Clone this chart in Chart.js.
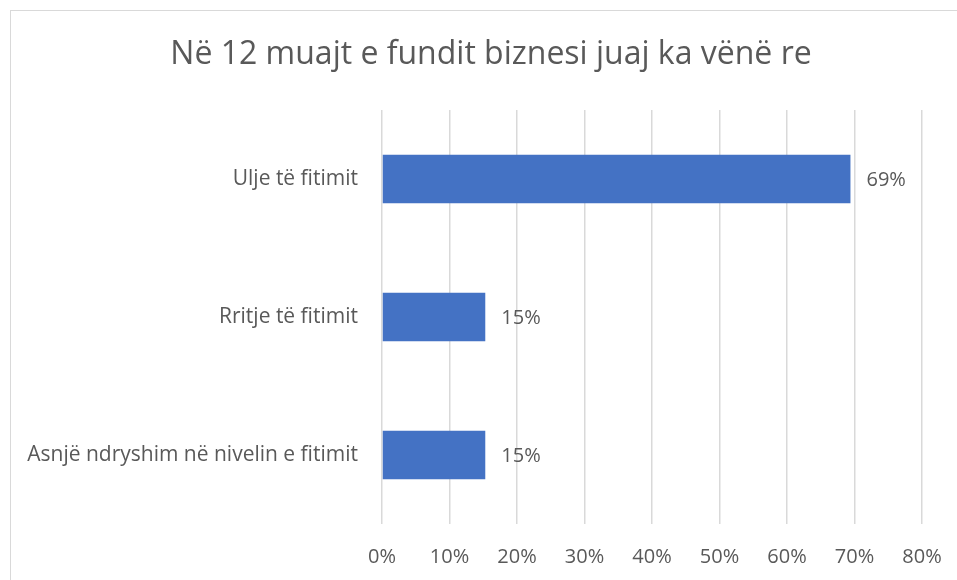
<!DOCTYPE html>
<html>
<head>
<meta charset="utf-8">
<script src="https://cdn.jsdelivr.net/npm/chart.js@4"></script>
<style>
  html, body { margin: 0; padding: 0; background: #ffffff; }
  #wrap { position: relative; width: 957px; height: 580px; }
</style>
</head>
<body>
<div id="wrap"><canvas id="c" width="957" height="580"></canvas></div>
<script>
const titleText = "Në 12 muajt e fundit biznesi juaj ka vënë re";
const categories = ["Ulje të fitimit", "Rritje të fitimit", "Asnjë ndryshim në nivelin e fitimit"];
const values = [69.4, 15.3, 15.3];
const tickValues = [0, 10, 20, 30, 40, 50, 60, 70, 80];

const FONT = "'Open Sans', Lato, sans-serif";
const TEXT = "#595959";

const framePlugin = {
  id: "frame",
  beforeDraw(chart) {
    const ctx = chart.ctx;
    ctx.save();
    ctx.fillStyle = "#ffffff";
    ctx.fillRect(0, 0, chart.width, chart.height);
    ctx.strokeStyle = "#d9d9d9";
    ctx.lineWidth = 1;
    ctx.strokeRect(10.5, 10.5, chart.width + 20, chart.height + 20);
    ctx.fillStyle = TEXT;
    ctx.font = "32px " + FONT;
    ctx.textAlign = "center";
    ctx.textBaseline = "middle";
    ctx.fillText(titleText, 491, 55);
    ctx.restore();
  }
};

const labelPlugin = {
  id: "barLabels",
  afterDatasetsDraw(chart) {
    const ctx = chart.ctx;
    const meta = chart.getDatasetMeta(0);
    ctx.save();
    ctx.font = "20px " + FONT;
    ctx.fillStyle = TEXT;
    ctx.textAlign = "left";
    ctx.textBaseline = "middle";
    meta.data.forEach((bar, i) => {
      ctx.fillText(Math.round(values[i]) + "%", bar.x + 16, bar.y + 1);
    });
    ctx.restore();
  }
};

new Chart(document.getElementById("c"), {
  type: "bar",
  data: {
    labels: categories,
    datasets: [{
      data: values,
      backgroundColor: "#4472c4",
      borderWidth: 0,
      barPercentage: 0.7,
      categoryPercentage: 0.5
    }]
  },
  options: {
    indexAxis: "y",
    responsive: false,
    animation: false,
    devicePixelRatio: 1,
    layout: { padding: { left: 0, right: 35, top: 110, bottom: 0 } },
    plugins: {
      legend: { display: false },
      tooltip: { enabled: false },
      title: { display: false }
    },
    scales: {
      x: {
        min: 0,
        max: 80,
        afterBuildTicks(scale) { scale.ticks = tickValues.map(v => ({ value: v })); },
        afterFit(scale) { scale.height = 56; scale.paddingLeft = 0; scale.paddingRight = 0; },
        grid: { color: "#d9d9d9", lineWidth: 1.5, drawTicks: false },
        border: { display: false },
        ticks: {
          color: TEXT,
          font: { family: FONT, size: 20 },
          padding: 21,
          callback: v => v + "%"
        }
      },
      y: {
        afterFit(scale) { scale.width = 382; scale.paddingTop = 0; scale.paddingBottom = 0; },
        grid: { display: false },
        border: { display: false },
        ticks: {
          color: TEXT,
          font: { family: FONT, size: 21 },
          padding: 16
        }
      }
    }
  },
  plugins: [framePlugin, labelPlugin]
});
</script>
</body>
</html>
